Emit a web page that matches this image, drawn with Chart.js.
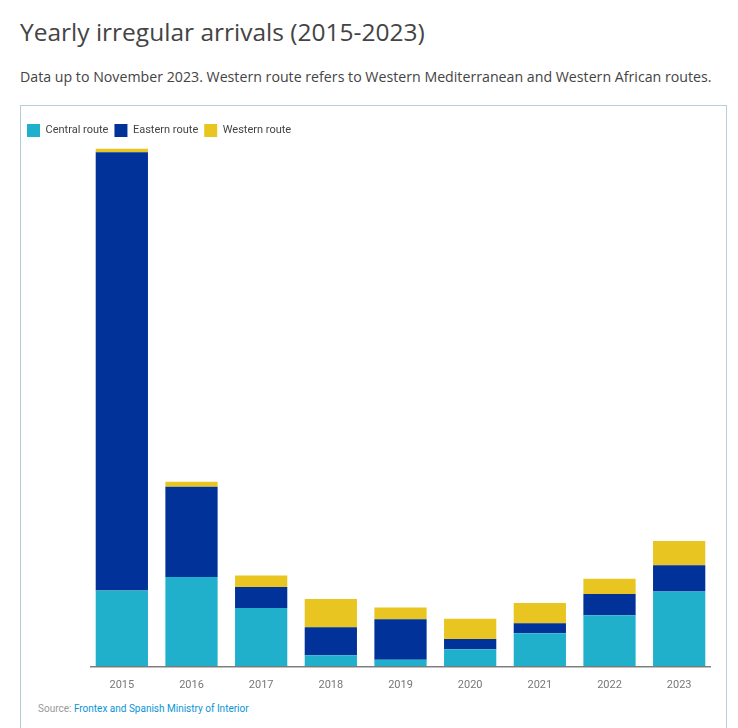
<!DOCTYPE html>
<html><head><meta charset="utf-8">
<script src="https://cdn.jsdelivr.net/npm/chart.js@4"></script>
<style>
html,body{margin:0;padding:0;width:738px;height:728px;overflow:hidden;background:#fff}
h1{position:absolute;left:20px;top:15px;margin:0;font:400 24.5px "Open Sans",sans-serif;color:#444;white-space:nowrap}
p{position:absolute;left:20px;top:67px;margin:0;font:400 14.2px "Open Sans",sans-serif;color:#444;white-space:nowrap}
#box{position:absolute;left:20px;top:105px;width:705px;height:640px;border:1px solid #b5d0d6}
canvas{position:absolute;left:0;top:0}
#src{position:absolute;left:38px;top:703px;font:400 10px Roboto,sans-serif;color:#999;white-space:nowrap}
#src a{color:#0a94d6;text-decoration:none}
</style></head><body>
<h1>Yearly irregular arrivals (2015-2023)</h1>
<p>Data up to November 2023. Western route refers to Western Mediterranean and Western African routes.</p>
<div id="box"><canvas id="c" width="705" height="590"></canvas></div>
<div id="src">Source: <a href="#">Frontex and Spanish Ministry of Interior</a></div>
<script>
const years = ['2015','2016','2017','2018','2019','2020','2021','2022','2023'];
const central = [153946,181376,118962,23370,14003,35628,67724,104000,152000];
const eastern = [885386,182277,42319,56561,82000,20283,20374,43000,53000];
const western = [7004,10231,23143,57034,24000,41000,41000,31000,49000];

const baseline = {
  id:'baseline',
  beforeDatasetsDraw(chart){
    const {ctx,chartArea:a} = chart;
    ctx.save();ctx.fillStyle='#fff';
    ctx.fillRect(a.left-1,a.top,4,a.height);
    ctx.fillRect(a.right-3,a.top,4,a.height);
    ctx.restore();
  },
  afterDatasetsDraw(chart){
    const {ctx,chartArea:a,scales:{y}} = chart;
    const py = y.getPixelForValue(0);
    ctx.save();ctx.strokeStyle='rgba(90,90,90,0.75)';ctx.lineWidth=1.5;
    ctx.beginPath();ctx.moveTo(a.left+3,py);ctx.lineTo(a.right-3,py);ctx.stroke();
    ctx.restore();
  }
};

new Chart(document.getElementById('c'),{
  type:'bar',
  data:{labels:years,datasets:[
    {label:'Central route',data:central,backgroundColor:'#20b0cc'},
    {label:'Eastern route',data:eastern,backgroundColor:'#003299'},
    {label:'Western route',data:western,backgroundColor:'#e8c520'}
  ]},
  plugins:[baseline],
  options:{
    responsive:false,animation:false,
    datasets:{bar:{categoryPercentage:0.75,barPercentage:1}},
    layout:{padding:{left:0,right:12,top:12,bottom:0}},
    plugins:{
      tooltip:{enabled:false},
      legend:{position:'top',align:'start',
        onClick:null,
        labels:{boxWidth:13,boxHeight:13,padding:6,color:'#444',font:{family:'Roboto',size:11}}}
    },
    scales:{
      x:{stacked:true,
        grid:{display:false},border:{display:false},
        ticks:{color:'#777',font:{family:'Roboto',size:11},padding:4,maxRotation:0}},
      y:{stacked:true,min:0,max:1050000,
        afterBuildTicks(s){s.ticks=s.ticks.filter(t=>t.value%200000===0);},
        afterFit(s){s.width=66;},
        grid:{color:'#e9e9e9',lineWidth:1,drawTicks:false},border:{display:false},
        ticks:{stepSize:200000,color:'#aaa',padding:2,font:{family:'Roboto',size:11},
          callback(v){return v===0?'':String(v).replace(/\B(?=(\d{3})+$)/g,' ');}}}
    }
  }
});
</script>
</body></html>
